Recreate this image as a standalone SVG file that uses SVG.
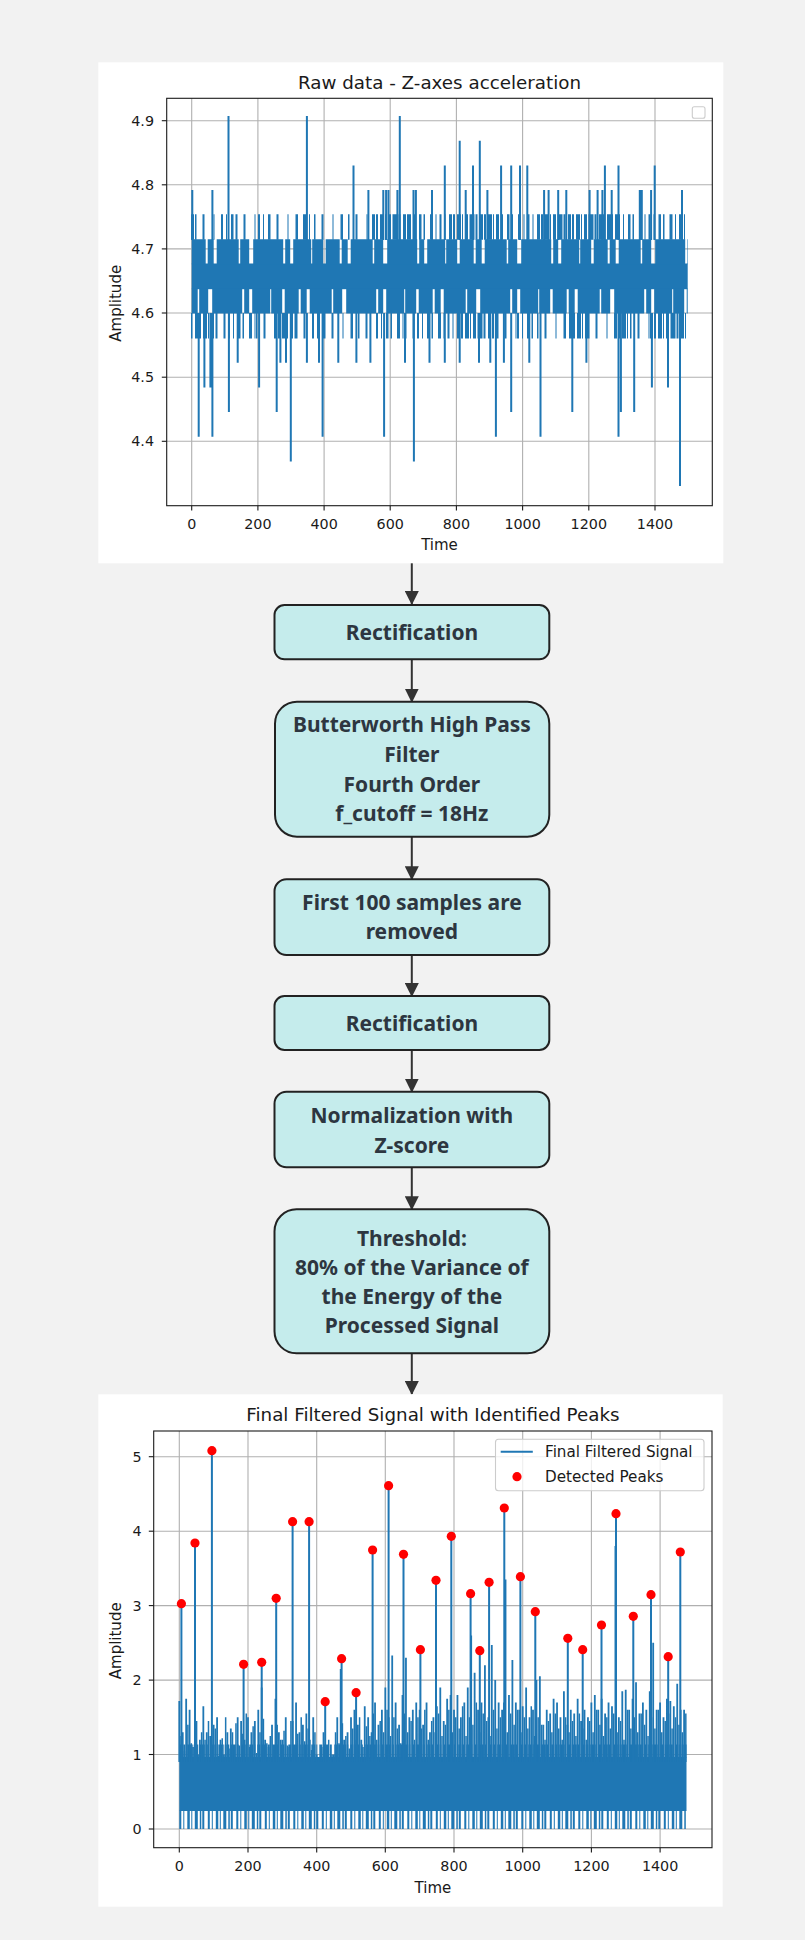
<svg xmlns="http://www.w3.org/2000/svg" width="805" height="1940" viewBox="0 0 805 1940">
<defs>
<style>
.tk{font-family:"DejaVu Sans",sans-serif;font-size:14.3px;fill:#1a1a1a}
.al{font-family:"DejaVu Sans",sans-serif;font-size:15px;fill:#1a1a1a}
.lg{font-family:"DejaVu Sans",sans-serif;font-size:15.2px;fill:#1a1a1a}
.tt{font-family:"DejaVu Sans",sans-serif;font-size:18.3px;fill:#1a1a1a}
.grid line{stroke:#b0b0b0;stroke-width:1.1}
.tick line{stroke:#1a1a1a;stroke-width:1.1}
.spine{fill:none;stroke:#1a1a1a;stroke-width:1.1}
.sig{stroke:#1f77b4;fill:none}
.D{stroke-dasharray:3 1 2 2 4 1 1 2 3 1.5 5 1 2 2.5}
.M{stroke-dasharray:2 3 1 4 2.5 2 1.5 5 3 2.5 1 3}
.S{stroke-dasharray:1.5 6 2 9 1 7 2.5 5}
.N{stroke-dasharray:14 2 6 3 22 1.5 9 4 30 2 5 3 18 1 11 2.5}
.box{fill:#c5ecec;stroke:#222;stroke-width:2}
.bt{font-family:"Noto Sans","Open Sans",sans-serif;font-weight:700;font-size:21px;fill:#2d3640;text-anchor:middle}
.conn line{stroke:#333;stroke-width:2}
</style>
<marker id="ah" markerUnits="userSpaceOnUse" markerWidth="14" markerHeight="14" viewBox="0 0 14 14" refX="13" refY="7" orient="auto">
<path d="M0 0L14 7L0 14z" fill="#333"/>
</marker>
</defs>
<rect width="805" height="1940" fill="#f2f2f2"/>

<g id="plot-raw">
<rect x="98.3" y="62.3" width="625" height="501" fill="#fff"/>
<g class="grid">
<line x1="191.7" y1="98.3" x2="191.7" y2="505.7"/><line x1="257.9" y1="98.3" x2="257.9" y2="505.7"/><line x1="324.1" y1="98.3" x2="324.1" y2="505.7"/><line x1="390.2" y1="98.3" x2="390.2" y2="505.7"/><line x1="456.4" y1="98.3" x2="456.4" y2="505.7"/><line x1="522.6" y1="98.3" x2="522.6" y2="505.7"/><line x1="588.8" y1="98.3" x2="588.8" y2="505.7"/><line x1="655" y1="98.3" x2="655" y2="505.7"/>
<line x1="166.7" y1="441.3" x2="712.3" y2="441.3"/><line x1="166.7" y1="377.2" x2="712.3" y2="377.2"/><line x1="166.7" y1="313" x2="712.3" y2="313"/><line x1="166.7" y1="248.9" x2="712.3" y2="248.9"/><line x1="166.7" y1="184.8" x2="712.3" y2="184.8"/><line x1="166.7" y1="120.7" x2="712.3" y2="120.7"/>
</g>
<rect x="191.7" y="263.5" width="496" height="25.7" fill="#1f77b4"/>
<g class="sig">
<line class="N" x1="191.7" y1="251.7" x2="687.7" y2="251.7" stroke-width="25"/>
<line class="N" x1="191.7" y1="301" x2="687.7" y2="301" stroke-width="25" stroke-dashoffset="41"/>
<g stroke-width="25.5">
<line class="D" x1="191" y1="227" x2="195" y2="227"/><line class="S" x1="195" y1="227" x2="221" y2="227"/><line class="M" x1="221" y1="227" x2="236" y2="227"/><line class="S" x1="236" y1="227" x2="258" y2="227"/><line class="M" x1="258" y1="227" x2="269" y2="227"/><line class="S" x1="269" y1="227" x2="304" y2="227"/><line class="M" x1="304" y1="227" x2="314" y2="227"/><line class="S" x1="314" y1="227" x2="372" y2="227"/><line class="D" x1="372" y1="227" x2="409" y2="227"/><line class="M" x1="409" y1="227" x2="449" y2="227"/><line class="D" x1="449" y1="227" x2="497" y2="227"/><line class="M" x1="497" y1="227" x2="537" y2="227"/><line class="D" x1="537" y1="227" x2="618" y2="227"/><line class="M" x1="618" y1="227" x2="686" y2="227"/>
<line class="S" x1="191" y1="325.7" x2="195" y2="325.7"/><line class="D" x1="195" y1="325.7" x2="216" y2="325.7"/><line class="S" x1="216" y1="325.7" x2="228" y2="325.7"/><line class="M" x1="228" y1="325.7" x2="256" y2="325.7"/><line class="S" x1="256" y1="325.7" x2="274" y2="325.7"/><line class="D" x1="274" y1="325.7" x2="296" y2="325.7"/><line class="S" x1="296" y1="325.7" x2="312" y2="325.7"/><line class="M" x1="312" y1="325.7" x2="324" y2="325.7"/><line class="S" x1="324" y1="325.7" x2="376" y2="325.7"/><line class="M" x1="376" y1="325.7" x2="405" y2="325.7"/><line class="S" x1="405" y1="325.7" x2="417" y2="325.7"/><line class="M" x1="417" y1="325.7" x2="457" y2="325.7"/><line class="D" x1="457" y1="325.7" x2="497" y2="325.7"/><line class="S" x1="497" y1="325.7" x2="517" y2="325.7"/><line class="M" x1="517" y1="325.7" x2="537" y2="325.7"/><line class="S" x1="537" y1="325.7" x2="569" y2="325.7"/><line class="D" x1="569" y1="325.7" x2="588" y2="325.7"/><line class="S" x1="588" y1="325.7" x2="614" y2="325.7"/><line class="D" x1="614" y1="325.7" x2="630" y2="325.7"/><line class="S" x1="630" y1="325.7" x2="650" y2="325.7"/><line class="D" x1="650" y1="325.7" x2="686" y2="325.7"/>
</g>
<path stroke-width="2" d="M192.3 240V190M212.4 240V190M228.5 240V116M306.9 240V116M353.5 240V165.4M368.4 240V190M383.3 240V190M386.1 240V190M388.5 240V190M397.4 240V190M399.8 240V116M413.5 240V190M415.9 240V190M432 240V190M444.8 240V165.4M459.7 240V140.7M465.7 240V190M473 240V165.4M479.8 240V140.7M487.4 240V190M501.1 240V165.4M511.2 240V165.4M520 240V165.4M527.3 240V165.4M544.1 240V190M548.6 240V190M558.2 240V190M566.3 240V190M589.6 240V190M597.6 240V190M602.4 240V190M604.9 240V165.4M611.7 240V190M618.5 240V165.4M639.8 240V190M641.8 240V190M651.1 240V190M654.7 240V165.4M682 240V190"/>
<path stroke-width="2" d="M198.7 313V436.7M204.4 313V387.4M210.4 313V387.4M212.4 313V436.7M228.9 313V412M237.7 313V362.7M259.1 313V387.4M276.7 313V412M280.4 313V362.7M286 313V362.7M290.8 313V461.4M306.9 313V362.7M319 313V362.7M322.6 313V436.7M338.3 313V362.7M356.4 313V362.7M370.4 313V362.7M384.1 313V436.7M405 313V362.7M413.9 313V461.4M429.5 313V362.7M444.8 313V362.7M459.7 313V362.7M479 313V362.7M490.3 313V362.7M495.9 313V436.7M503.9 313V362.7M511.2 313V412M529.3 313V362.7M540.5 313V436.7M572.3 313V412M586.4 313V362.7M618.5 313V436.7M620.9 313V412M634.2 313V412M651.9 313V387.4M668 313V387.4M680 313V486"/>
</g>
<rect class="spine" x="166.7" y="98.3" width="545.6" height="407.4"/>
<g class="tick">
<line x1="191.7" y1="505.7" x2="191.7" y2="510.6"/><line x1="257.9" y1="505.7" x2="257.9" y2="510.6"/><line x1="324.1" y1="505.7" x2="324.1" y2="510.6"/><line x1="390.2" y1="505.7" x2="390.2" y2="510.6"/><line x1="456.4" y1="505.7" x2="456.4" y2="510.6"/><line x1="522.6" y1="505.7" x2="522.6" y2="510.6"/><line x1="588.8" y1="505.7" x2="588.8" y2="510.6"/><line x1="655" y1="505.7" x2="655" y2="510.6"/>
<line x1="161.8" y1="441.3" x2="166.7" y2="441.3"/><line x1="161.8" y1="377.2" x2="166.7" y2="377.2"/><line x1="161.8" y1="313" x2="166.7" y2="313"/><line x1="161.8" y1="248.9" x2="166.7" y2="248.9"/><line x1="161.8" y1="184.8" x2="166.7" y2="184.8"/><line x1="161.8" y1="120.7" x2="166.7" y2="120.7"/>
</g>
<g class="tk" text-anchor="middle">
<text x="191.7" y="529.3">0</text><text x="257.9" y="529.3">200</text><text x="324.1" y="529.3">400</text><text x="390.2" y="529.3">600</text><text x="456.4" y="529.3">800</text><text x="522.6" y="529.3">1000</text><text x="588.8" y="529.3">1200</text><text x="655" y="529.3">1400</text>
</g>
<g class="al" text-anchor="middle">
<text x="439.5" y="549.5">Time</text>
<text transform="translate(121 303.3) rotate(-90)">Amplitude</text>
</g>
<g class="tk" text-anchor="end">
<text x="154" y="446.3">4.4</text><text x="154" y="382.2">4.5</text><text x="154" y="318">4.6</text><text x="154" y="253.9">4.7</text><text x="154" y="189.8">4.8</text><text x="154" y="125.7">4.9</text>
</g>
<text class="tt" x="439.5" y="89.3" text-anchor="middle">Raw data - Z-axes acceleration</text>
<rect x="692.3" y="106.7" width="12.7" height="11.6" rx="2" fill="#fff" stroke="#cccccc" stroke-width="1.1"/>
</g>

<g id="connectors" class="conn">
<line x1="411.8" y1="563.3" x2="411.8" y2="604" marker-end="url(#ah)"/>
<line x1="411.8" y1="659.3" x2="411.8" y2="701.7" marker-end="url(#ah)"/>
<line x1="411.8" y1="836.7" x2="411.8" y2="879.3" marker-end="url(#ah)"/>
<line x1="411.8" y1="955" x2="411.8" y2="996" marker-end="url(#ah)"/>
<line x1="411.8" y1="1050" x2="411.8" y2="1091.7" marker-end="url(#ah)"/>
<line x1="411.8" y1="1167.3" x2="411.8" y2="1209.3" marker-end="url(#ah)"/>
<line x1="411.8" y1="1353.3" x2="411.8" y2="1394" marker-end="url(#ah)"/>
</g>

<g id="n-rect1"><rect class="box" x="274.5" y="605" width="274.8" height="54.3" rx="10"/><text class="bt" x="411.9" y="640">Rectification</text></g>
<g id="n-butter"><rect class="box" x="275" y="701.7" width="274.3" height="135" rx="22"/><text class="bt" x="411.9" y="732.3">Butterworth High Pass</text><text class="bt" x="411.9" y="762">Filter</text><text class="bt" x="411.9" y="791.7">Fourth Order</text><text class="bt" x="411.9" y="820.5">f_cutoff = 18Hz</text></g>
<g id="n-first100"><rect class="box" x="274.5" y="879.3" width="274.8" height="75.7" rx="12"/><text class="bt" x="411.9" y="910">First 100 samples are</text><text class="bt" x="411.9" y="938.5">removed</text></g>
<g id="n-rect2"><rect class="box" x="274.5" y="996" width="274.8" height="54" rx="10"/><text class="bt" x="411.9" y="1031">Rectification</text></g>
<g id="n-norm"><rect class="box" x="274.5" y="1091.7" width="274.8" height="75.6" rx="12"/><text class="bt" x="411.9" y="1123.3">Normalization with</text><text class="bt" x="411.9" y="1152.7">Z-score</text></g>
<g id="n-thresh"><rect class="box" x="274.5" y="1209.3" width="274.8" height="144" rx="22"/><text class="bt" x="411.9" y="1246">Threshold:</text><text class="bt" x="411.9" y="1275">80% of the Variance of</text><text class="bt" x="411.9" y="1304">the Energy of the</text><text class="bt" x="411.9" y="1333.3">Processed Signal</text></g>

<g id="plot-final">
<rect x="98.3" y="1394.3" width="624.4" height="512.4" fill="#fff"/>
<g class="grid">
<line x1="179.3" y1="1431" x2="179.3" y2="1847.7"/><line x1="248" y1="1431" x2="248" y2="1847.7"/><line x1="316.7" y1="1431" x2="316.7" y2="1847.7"/><line x1="385.3" y1="1431" x2="385.3" y2="1847.7"/><line x1="454" y1="1431" x2="454" y2="1847.7"/><line x1="522.7" y1="1431" x2="522.7" y2="1847.7"/><line x1="591.4" y1="1431" x2="591.4" y2="1847.7"/><line x1="660.1" y1="1431" x2="660.1" y2="1847.7"/>
<line x1="153.7" y1="1829" x2="712" y2="1829"/><line x1="153.7" y1="1754.5" x2="712" y2="1754.5"/><line x1="153.7" y1="1680.1" x2="712" y2="1680.1"/><line x1="153.7" y1="1605.6" x2="712" y2="1605.6"/><line x1="153.7" y1="1531.2" x2="712" y2="1531.2"/><line x1="153.7" y1="1456.7" x2="712" y2="1456.7"/>
</g>
<rect x="179.3" y="1757" width="507.2" height="54" fill="#1f77b4"/>
<g class="sig">
<line class="D" x1="179.3" y1="1751" x2="686.5" y2="1751" stroke-width="13"/>
<line x1="179.3" y1="1819.8" x2="686.5" y2="1819.8" stroke-width="18.4" stroke-dasharray="2 2 1 3 2.5 1.5 1 2.5 3 2 1.5 1 2 3.5"/>
<path stroke-width="1.5" vector-effect="non-scaling-stroke" transform="matrix(0.3434 0 0 -74.46 179.3 1829)" d="M5 .9V1.25M15 .9V1.05M25 .9V1.4M35 .9V1.15M45 .9V1.5M55 .9V1M65 .9V1.3M75 .9V1.2M85 .9V1.45M95 .9V1.1M105 .9V1.35M115 .9V.98M125 .9V1.22M135 .9V1.5M145 .9V1.08M155 .9V1.3M165 .9V1.42M175 .9V1.12M185 .9V1.28M195 .9V1.55M205 .9V1.1M215 .9V1.38M225 .9V1.02M235 .9V1.3M245 .9V1.48M255 .9V1.15M265 .9V1.25M275 .9V1.05M285 .9V1.4M295 .9V1.2M305 .9V1.32M315 .9V1.12M325 .9V1.45M335 .9V1.02M345 .9V1.28M355 .9V1.5M365 .9V1.18M375 .9V1.35M385 .9V1.06M395 .9V1.3M405 .9V.95M415 .9V1.1M425 .9V.92M435 .9V1.2M445 .9V1M455 .9V1.3M465 .9V1.15M475 .9V1.42M485 .9V1.25M495 .9V1.08M505 .9V1.35M515 .9V1.2M525 .9V1.5M535 .9V1.1M545 .9V1.38M555 .9V1.25M565 .9V1.55M575 .9V1.2M585 .9V1.45M595 .9V1.3M605 .9V1.6M615 .9V1.25M625 .9V1.5M635 .9V1.35M645 .9V1.15M655 .9V1.55M665 .9V1.3M675 .9V1.45M685 .9V1.2M695 .9V1.5M705 .9V1.35M715 .9V1.6M725 .9V1.2M735 .9V1.45M745 .9V1.3M755 .9V1.55M765 .9V1.25M775 .9V1.4M785 .9V1.6M795 .9V1.3M805 .9V1.5M815 .9V1.35M825 .9V1.65M835 .9V1.25M845 .9V1.5M855 .9V1.4M865 .9V1.7M875 .9V1.3M885 .9V1.55M895 .9V1.45M905 .9V1.25M915 .9V1.6M925 .9V1.35M935 .9V1.5M945 .9V1.7M955 .9V1.3M965 .9V1.55M975 .9V1.4M985 .9V1.6M995 .9V1.3M1005 .9V1.5M1015 .9V1.35M1025 .9V1.65M1035 .9V1.25M1045 .9V1.5M1055 .9V1.4M1065 .9V1.2M1075 .9V1.45M1085 .9V1.3M1095 .9V1.55M1105 .9V1.35M1115 .9V1.2M1125 .9V1.5M1135 .9V1.3M1145 .9V1.45M1155 .9V1.25M1165 .9V1.55M1175 .9V1.35M1185 .9V1.2M1195 .9V1.45M1205 .9V1.3M1215 .9V1.6M1225 .9V1.4M1235 .9V1.25M1245 .9V1.5M1255 .9V1.35M1265 .9V1.55M1275 .9V1.3M1285 .9V1.45M1295 .9V1.2M1305 .9V1.6M1315 .9V1.35M1325 .9V1.5M1335 .9V1.3M1345 .9V1.55M1355 .9V1.4M1365 .9V1.25M1375 .9V1.5M1385 .9V1.35M1395 .9V1.6M1405 .9V1.3M1415 .9V1.45M1425 .9V1.55M1435 .9V1.35M1445 .9V1.5M1455 .9V1.4M1465 .9V1.3M1475 .9V1.55"/>
<path stroke-width="1.8" vector-effect="non-scaling-stroke" transform="matrix(0.3434 0 0 -74.46 179.3 1829)" d="M0 .9V1.72M10 .9V1.3M20 .9V1.75M30 .9V1.6M40 .9V1.1M50 .9V1.45M60 .9V1.2M70 .9V1.65M80 .9V1.3M90 .9V1.25M100 .9V1.4M110 .9V1.5M120 .9V1.2M130 .9V1M140 .9V1.3M150 .9V1.35M160 .9V1.1M170 .9V1.5M180 .9V1.45M190 .9V1.2M200 .9V1.5M210 .9V1.3M220 .9V1.45M230 .9V1.6M240 .9V1.9M250 .9V1.2M260 .9V1.1M270 .9V1.4M280 .9V1.75M290 .9V1.3M300 .9V1.2M310 .9V1.5M320 .9V1.1M330 .9V1.45M340 .9V1.7M350 .9V1.3M360 .9V1.4M370 .9V1.55M380 .9V1.2M390 .9V1.5M400 .9V1M410 .9V.95M420 .9V1.3M430 .9V1.1M440 .9V.9M450 .9V1M460 .9V1.5M470 .9V2.15M480 .9V1.2M490 .9V1.3M500 .9V1.5M510 .9V1.6M520 .9V1.4M530 .9V1.2M540 .9V1.65M550 .9V1.5M560 .9V1.3M570 .9V1.7M580 .9V1.4M590 .9V1.6M600 .9V1.9M610 .9V1.5M620 .9V2.33M630 .9V1.7M640 .9V1.4M650 .9V1.8M660 .9V2.3M670 .9V1.5M680 .9V1.6M690 .9V1.7M700 .9V1.6M710 .9V1.4M720 .9V1.7M730 .9V1.3M740 .9V1.5M750 .9V1.65M760 .9V1.9M770 .9V1.45M780 .9V1.75M790 .9V1.8M800 .9V1.6M810 .9V1.8M820 .9V1.5M830 .9V1.7M840 .9V1.9M850 .9V2.6M860 .9V2.1M870 .9V1.6M880 .9V1.7M890 .9V2.2M900 .9V1.5M910 .9V2.47M920 .9V2M930 .9V1.7M940 .9V1.6M950 .9V3.35M960 .9V1.8M970 .9V2.27M980 .9V1.7M990 .9V1.6M1000 .9V1.65M1010 .9V1.9M1020 .9V1.5M1030 .9V1.6M1040 .9V2M1050 .9V2.05M1060 .9V1.4M1070 .9V1.6M1080 .9V1.55M1090 .9V1.75M1100 .9V1.7M1110 .9V1.5M1120 .9V1.85M1130 .9V1.4M1140 .9V1.6M1150 .9V1.55M1160 .9V1.75M1170 .9V1.45M1180 .9V1.6M1190 .9V1.5M1200 .9V1.7M1210 .9V1.8M1220 .9V1.6M1230 .9V1.75M1240 .9V1.55M1250 .9V1.7M1260 .9V1.65M1270 .9V3.8M1280 .9V1.5M1290 .9V1.85M1300 .9V1.87M1310 .9V1.6M1320 .9V1.75M1330 .9V1.97M1340 .9V1.55M1350 .9V1.7M1360 .9V1.6M1370 .9V1.85M1380 .9V2.5M1390 .9V1.6M1400 .9V1.7M1410 .9V1.5M1420 .9V1.75M1430 .9V1.72M1440 .9V1.65M1450 .9V1.95M1460 .9V1.6M1470 .9V1.6"/>
<path stroke-width="2" d="M181.4 1762V1603.7M195 1762V1543M211.9 1762V1450.7M243.6 1762V1664.3M261.7 1762V1662.3M276.2 1762V1598.3M292.6 1762V1521.7M309.1 1762V1521.7M325.2 1762V1701.7M341.6 1762V1658.7M356.1 1762V1692.7M372.6 1762V1550M388.6 1762V1485.7M403.5 1762V1554.3M420.4 1762V1649.7M436 1762V1580.3M451.3 1762V1536.3M470.6 1762V1593.7M479.8 1762V1650.7M489.1 1762V1582.3M504.3 1762V1508M520.4 1762V1576.7M535.3 1762V1611.7M567.8 1762V1638.3M582.7 1762V1649.7M601.5 1762V1625M616 1762V1513.7M633.3 1762V1616.3M651 1762V1594.7M668.2 1762V1656.7M680.3 1762V1552"/>
</g>
<g fill="#ff0000">
<circle cx="181.4" cy="1603.7" r="4.6"/><circle cx="195" cy="1543" r="4.6"/><circle cx="211.9" cy="1450.7" r="4.6"/><circle cx="243.6" cy="1664.3" r="4.6"/><circle cx="261.7" cy="1662.3" r="4.6"/><circle cx="276.2" cy="1598.3" r="4.6"/><circle cx="292.6" cy="1521.7" r="4.6"/><circle cx="309.1" cy="1521.7" r="4.6"/><circle cx="325.2" cy="1701.7" r="4.6"/><circle cx="341.6" cy="1658.7" r="4.6"/><circle cx="356.1" cy="1692.7" r="4.6"/><circle cx="372.6" cy="1550" r="4.6"/><circle cx="388.6" cy="1485.7" r="4.6"/><circle cx="403.5" cy="1554.3" r="4.6"/><circle cx="420.4" cy="1649.7" r="4.6"/><circle cx="436" cy="1580.3" r="4.6"/><circle cx="451.3" cy="1536.3" r="4.6"/><circle cx="470.6" cy="1593.7" r="4.6"/><circle cx="479.8" cy="1650.7" r="4.6"/><circle cx="489.1" cy="1582.3" r="4.6"/><circle cx="504.3" cy="1508" r="4.6"/><circle cx="520.4" cy="1576.7" r="4.6"/><circle cx="535.3" cy="1611.7" r="4.6"/><circle cx="567.8" cy="1638.3" r="4.6"/><circle cx="582.7" cy="1649.7" r="4.6"/><circle cx="601.5" cy="1625" r="4.6"/><circle cx="616" cy="1513.7" r="4.6"/><circle cx="633.3" cy="1616.3" r="4.6"/><circle cx="651" cy="1594.7" r="4.6"/><circle cx="668.2" cy="1656.7" r="4.6"/><circle cx="680.3" cy="1552" r="4.6"/>
</g>
<rect class="spine" x="153.7" y="1431" width="558.3" height="416.7"/>
<g class="tick">
<line x1="179.3" y1="1847.7" x2="179.3" y2="1852.6"/><line x1="248" y1="1847.7" x2="248" y2="1852.6"/><line x1="316.7" y1="1847.7" x2="316.7" y2="1852.6"/><line x1="385.3" y1="1847.7" x2="385.3" y2="1852.6"/><line x1="454" y1="1847.7" x2="454" y2="1852.6"/><line x1="522.7" y1="1847.7" x2="522.7" y2="1852.6"/><line x1="591.4" y1="1847.7" x2="591.4" y2="1852.6"/><line x1="660.1" y1="1847.7" x2="660.1" y2="1852.6"/>
<line x1="148.8" y1="1829" x2="153.7" y2="1829"/><line x1="148.8" y1="1754.5" x2="153.7" y2="1754.5"/><line x1="148.8" y1="1680.1" x2="153.7" y2="1680.1"/><line x1="148.8" y1="1605.6" x2="153.7" y2="1605.6"/><line x1="148.8" y1="1531.2" x2="153.7" y2="1531.2"/><line x1="148.8" y1="1456.7" x2="153.7" y2="1456.7"/>
</g>
<g class="tk" text-anchor="middle">
<text x="179.3" y="1871">0</text><text x="248" y="1871">200</text><text x="316.7" y="1871">400</text><text x="385.3" y="1871">600</text><text x="454" y="1871">800</text><text x="522.7" y="1871">1000</text><text x="591.4" y="1871">1200</text><text x="660.1" y="1871">1400</text>
</g>
<g class="al" text-anchor="middle">
<text x="432.9" y="1892.5">Time</text>
<text transform="translate(121 1640.8) rotate(-90)">Amplitude</text>
</g>
<g class="tk" text-anchor="end">
<text x="141.7" y="1834">0</text><text x="141.7" y="1759.5">1</text><text x="141.7" y="1685.1">2</text><text x="141.7" y="1610.6">3</text><text x="141.7" y="1536.2">4</text><text x="141.7" y="1461.7">5</text>
</g>
<text class="tt" x="432.9" y="1421" text-anchor="middle">Final Filtered Signal with Identified Peaks</text>
<rect x="495.5" y="1439.3" width="208.5" height="51.5" rx="3" fill="#fff" fill-opacity="0.8" stroke="#cccccc" stroke-width="1.1"/>
<line x1="500.7" y1="1451.7" x2="532.8" y2="1451.7" stroke="#1f77b4" stroke-width="2"/>
<circle cx="517" cy="1476.7" r="4.6" fill="#ff0000"/>
<text class="lg" x="545" y="1457.2">Final Filtered Signal</text>
<text class="lg" x="545" y="1482.2">Detected Peaks</text>
</g>
</svg>
